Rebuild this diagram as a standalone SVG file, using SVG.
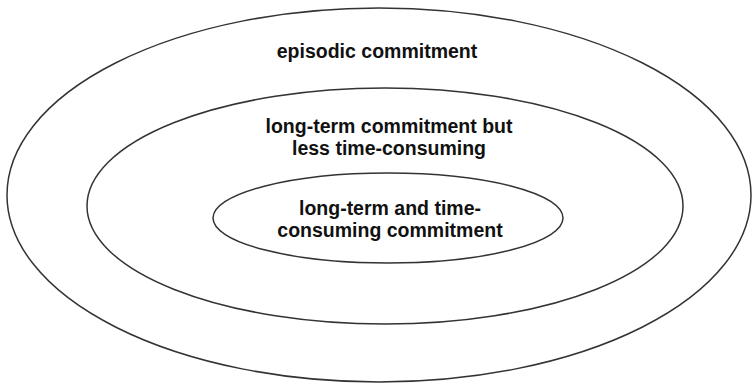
<svg xmlns="http://www.w3.org/2000/svg" width="754" height="384" viewBox="0 0 754 384">
<style>
.ring{fill:none;stroke:#333;stroke-width:1.5}
.lbl{font-family:"Liberation Sans",Arial,sans-serif;font-weight:bold;font-size:19.5px;fill:#111;text-anchor:middle}
</style>
<rect width="754" height="384" fill="#fff"/>
<g id="outer">
<ellipse class="ring" cx="379" cy="195" rx="372" ry="187"/>
<text class="lbl" x="377" y="58">episodic commitment</text>
</g>
<g id="middle">
<ellipse class="ring" cx="385" cy="206" rx="298" ry="118"/>
<text class="lbl" x="389" y="133">long-term commitment but</text>
<text class="lbl" x="389" y="155">less time-consuming</text>
</g>
<g id="inner">
<ellipse class="ring" cx="388" cy="218" rx="175" ry="45"/>
<text class="lbl" x="390" y="215">long-term and time-</text>
<text class="lbl" x="390" y="237">consuming commitment</text>
</g>
<g id="connectors"/>
</svg>
